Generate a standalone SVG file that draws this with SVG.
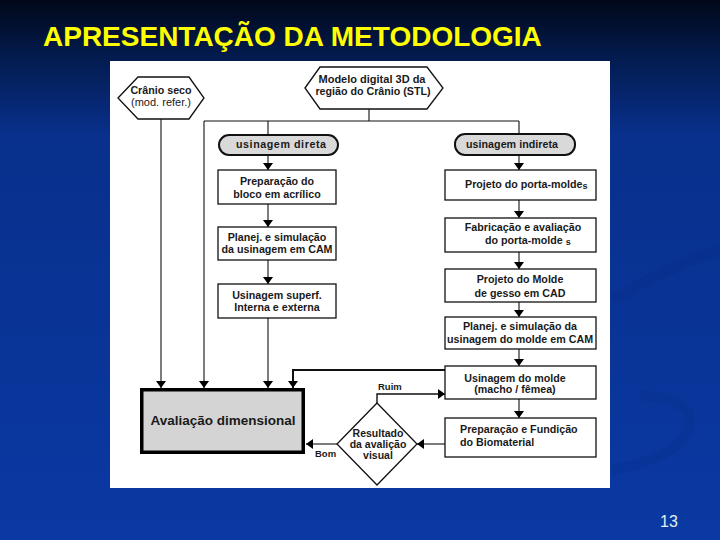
<svg xmlns="http://www.w3.org/2000/svg" width="720" height="540" viewBox="0 0 720 540">
<defs>
<linearGradient id="bg" x1="0" y1="0" x2="0" y2="1">
<stop offset="0" stop-color="#010818"/>
<stop offset="0.1" stop-color="#031a4c"/>
<stop offset="0.25" stop-color="#08308c"/>
<stop offset="1" stop-color="#0a39a3"/>
</linearGradient>
<marker id="ah" viewBox="0 0 7 10" refX="7" refY="5" markerWidth="7" markerHeight="10" orient="auto" markerUnits="userSpaceOnUse">
<path d="M0,0 L7,5 L0,10 z" fill="#000"/>
</marker>
<style>
.t{font-family:"Liberation Sans",Arial,sans-serif;font-weight:bold;font-size:10.7px;fill:#1a1a1a;text-anchor:middle}
.n{font-weight:normal}
.s{text-anchor:start}
.box{fill:#fff;stroke:#111;stroke-width:1.3}
.pill{fill:#d9d9d9;stroke:#111;stroke-width:2}
.c{fill:none;stroke:#111;stroke-width:1.1}
.ca{fill:none;stroke:#111;stroke-width:1.1;marker-end:url(#ah)}
</style>
</defs>
<rect width="720" height="540" fill="url(#bg)"/>
<path d="M612,300 Q665,268 720,250" fill="none" stroke="#062c86" stroke-width="10" opacity="0.3"/>
<path d="M612,470 Q690,455 690,420 Q690,400 640,395" fill="none" stroke="#062c86" stroke-width="10" opacity="0.22"/>
<text x="43" y="46" font-family="'Liberation Sans',Arial,sans-serif" font-weight="bold" font-size="28" fill="#ffff00">APRESENTAÇÃO DA METODOLOGIA</text>
<text x="660" y="527" font-family="'Liberation Sans',Arial,sans-serif" font-size="16" fill="#e0f0f0">13</text>
<rect x="110" y="61" width="500" height="427" fill="#fff"/>

<g id="connectors">
<path class="ca" d="M161,119 V388"/>
<path class="c" d="M369,109 V121 M204,121 H519 M268,121 V135 M519,121 V134"/>
<path class="ca" d="M204,121 V388"/>
<path class="ca" d="M268,155 V170"/>
<path class="ca" d="M268,204 V227"/>
<path class="ca" d="M268,260 V284"/>
<path class="ca" d="M268,318 V388"/>
<path class="ca" d="M519,155 V170"/>
<path class="ca" d="M519,200 V218"/>
<path class="ca" d="M519,252 V269"/>
<path class="ca" d="M519,302 V317"/>
<path class="ca" d="M519,349 V366"/>
<path class="ca" d="M519,399 V418"/>
<path class="ca" style="stroke-width:2" d="M445,370 H293 V388"/>
<path class="ca" style="stroke-width:1.4" d="M377,403 V394 H445"/>
<path class="ca" d="M445,444 H417"/>
<path class="ca" d="M337,444 H306"/>
<text class="t s" x="378" y="390" style="font-size:9.5px">Ruim</text>
<text class="t s" x="315" y="457" style="font-size:9.5px">Bom</text>
</g>

<g id="cranio">
<polygon class="box" points="118,98 138,77 189,77 204,98 189,119 138,119"/>
<text class="t" x="161" y="94">Crânio seco</text>
<text class="t n" x="161" y="106" style="font-size:11px">(mod. refer.)</text>
</g>
<g id="modelo">
<polygon class="box" points="305,88 320,67 427,67 443,88 427,109 320,109"/>
<text class="t" x="372" y="83" style="font-size:11px">Modelo digital 3D da</text>
<text class="t" x="373" y="95">região do Crânio (STL)</text>
</g>
<g id="direta">
<rect class="pill" x="219" y="135" width="119" height="20" rx="10"/>
<text class="t" x="281" y="148" textLength="90">usinagem direta</text>
</g>
<g id="indireta">
<rect class="pill" x="455" y="134" width="120" height="21" rx="10"/>
<text class="t" x="512" y="148" textLength="92">usinagem indireta</text>
</g>
<g id="preparacao-bloco">
<rect class="box" x="218" y="170" width="118" height="34"/>
<text class="t" x="277" y="185">Preparação do</text>
<text class="t" x="277" y="198">bloco em acrílico</text>
</g>
<g id="planej-cam">
<rect class="box" x="218" y="227" width="118" height="33"/>
<text class="t" x="277" y="241">Planej. e simulação</text>
<text class="t" x="277" y="253">da usinagem em CAM</text>
</g>
<g id="usinagem-superf">
<rect class="box" x="218" y="284" width="118" height="34"/>
<text class="t" x="277" y="299">Usinagem superf.</text>
<text class="t" x="277" y="311">Interna e externa</text>
</g>
<g id="projeto-porta">
<rect class="box" x="445" y="170" width="151" height="30"/>
<text class="t s" x="465" y="188">Projeto do porta-molde<tspan style="font-size:9px" dy="1">s</tspan></text>
</g>
<g id="fabricacao">
<rect class="box" x="445" y="218" width="151" height="34"/>
<text class="t" x="523" y="231">Fabricação e avaliação</text>
<text class="t s" x="485" y="244">do porta-molde <tspan style="font-size:9px" dy="1">s</tspan></text>
</g>
<g id="projeto-molde">
<rect class="box" x="445" y="269" width="151" height="33"/>
<text class="t" x="520" y="283">Projeto do Molde</text>
<text class="t" x="520" y="297">de gesso em CAD</text>
</g>
<g id="planej-molde">
<rect class="box" x="445" y="317" width="151" height="32"/>
<text class="t" x="520" y="330">Planej. e simulação da</text>
<text class="t" x="520" y="343">usinagem do molde em CAM</text>
</g>
<g id="usinagem-molde">
<rect class="box" x="445" y="366" width="151" height="33"/>
<text class="t" x="515" y="382">Usinagem do molde</text>
<text class="t" x="515" y="393">(macho / fêmea)</text>
</g>
<g id="fundicao">
<rect class="box" x="445" y="418" width="151" height="39"/>
<text class="t s" x="460" y="433">Preparação e Fundição</text>
<text class="t s" x="460" y="446">do Biomaterial</text>
</g>
<g id="resultado">
<polygon class="box" points="377,403 417,444 377,485 337,444"/>
<text class="t" x="378" y="437" style="font-size:10.5px">Resultado</text>
<text class="t" x="378" y="448" style="font-size:10.5px">da avalição</text>
<text class="t" x="378" y="459" style="font-size:10.5px">visual</text>
</g>
<g id="avaliacao">
<rect x="141.75" y="389.75" width="161.5" height="62.5" fill="#d4d4d4" stroke="#000" stroke-width="3.5"/>
<text class="t" x="223" y="425" style="font-size:13.5px">Avaliação dimensional</text>
</g>
</svg>
